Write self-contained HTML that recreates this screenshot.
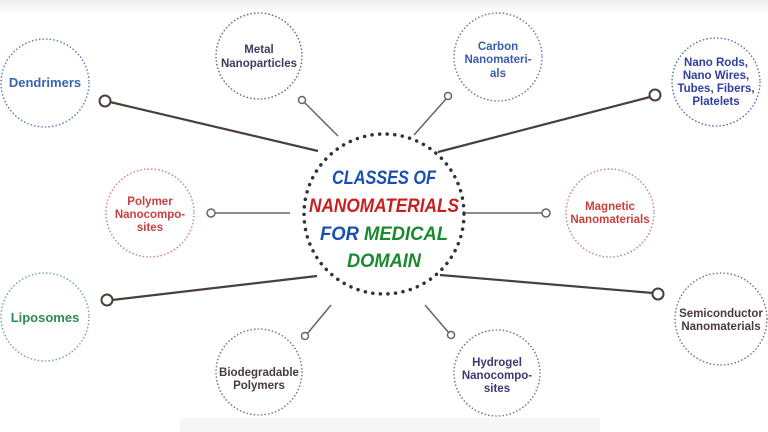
<!DOCTYPE html>
<html><head><meta charset="utf-8"><style>
html,body{margin:0;padding:0;background:#fff;}
svg{display:block;}
text{font-family:"Liberation Sans",sans-serif;font-weight:bold;text-anchor:middle;}
.t{font-size:11.5px;}
.h{font-size:19px;font-style:italic;font-weight:900;}
</style></head><body>
<svg width="768" height="432" viewBox="0 0 768 432" xmlns="http://www.w3.org/2000/svg">
<defs><linearGradient id="g" x1="0" y1="0" x2="0" y2="1"><stop offset="0" stop-color="#ececec"/><stop offset="1" stop-color="#fff"/></linearGradient></defs>
<rect x="0" y="0" width="768" height="14" fill="url(#g)"/>
<rect x="180" y="418" width="420" height="14" fill="#f6f6f6"/>
<g stroke="#4a3f3a" stroke-width="2.2" fill="none">
<line x1="110" y1="102" x2="318" y2="151"/>
<line x1="650" y1="97" x2="438" y2="152"/>
<line x1="112" y1="300" x2="317" y2="276"/>
<line x1="653" y1="293" x2="440" y2="275"/>
</g>
<g stroke="#666" stroke-width="1.5" fill="none">
<line x1="304" y1="102" x2="338" y2="136"/>
<line x1="446" y1="99" x2="414" y2="135"/>
<line x1="215" y1="213" x2="290" y2="213"/>
<line x1="542" y1="213" x2="466" y2="213"/>
<line x1="307" y1="334" x2="331" y2="305"/>
<line x1="449" y1="333" x2="425" y2="305"/>
</g>
<g fill="#fff" stroke="#4a3f3a" stroke-width="2">
<circle cx="105" cy="101" r="5.5"/><circle cx="655" cy="95" r="5.5"/>
<circle cx="107" cy="300" r="5.5"/><circle cx="658" cy="294" r="5.5"/>
</g>
<g fill="#fff" stroke="#666" stroke-width="1.5">
<circle cx="302" cy="100" r="3.5"/><circle cx="448" cy="96" r="3.5"/>
<circle cx="211" cy="213" r="4"/><circle cx="546" cy="213" r="4"/>
<circle cx="305" cy="336" r="3.5"/><circle cx="451" cy="335" r="3.5"/>
</g>
<circle cx="384" cy="214" r="80" fill="none" stroke="#333" stroke-width="3.5" stroke-dasharray="0.1 7.5" stroke-linecap="round"/>
<g fill="none" stroke-width="1.6" stroke-dasharray="0.1 3.5" stroke-linecap="round">
<circle cx="45" cy="83" r="44" stroke="#5a7ab8"/>
<circle cx="259" cy="56" r="43" stroke="#666a88"/>
<circle cx="498" cy="57" r="44" stroke="#6a7aa8"/>
<circle cx="716" cy="82" r="44" stroke="#5a6ab8"/>
<circle cx="150" cy="213" r="44" stroke="#d08080"/>
<circle cx="610" cy="213" r="44" stroke="#d08080"/>
<circle cx="45" cy="317" r="44" stroke="#70a890"/>
<circle cx="259" cy="372" r="43" stroke="#777"/>
<circle cx="497" cy="373" r="43" stroke="#777"/>
<circle cx="721" cy="319" r="46" stroke="#777"/>
</g>
<text class="t" x="45" y="87" fill="#3b63b0" style="font-size:13px">Dendrimers</text>
<text class="t" x="259" y="53" fill="#3d3d60">Metal</text>
<text class="t" x="259" y="67" fill="#3d3d60">Nanoparticles</text>
<text class="t" x="498" y="50" fill="#3b5ea8">Carbon</text>
<text class="t" x="498" y="63" fill="#3b5ea8">Nanomateri-</text>
<text class="t" x="498" y="77" fill="#3b5ea8">als</text>
<text class="t" x="716" y="66" fill="#3040a0">Nano Rods,</text>
<text class="t" x="716" y="79" fill="#3040a0">Nano Wires,</text>
<text class="t" x="716" y="92" fill="#3040a0">Tubes, Fibers,</text>
<text class="t" x="716" y="105" fill="#3040a0">Platelets</text>
<text class="t" x="150" y="205" fill="#c84040">Polymer</text>
<text class="t" x="150" y="218" fill="#c84040">Nanocompo-</text>
<text class="t" x="150" y="231" fill="#c84040">sites</text>
<text class="t" x="610" y="210" fill="#c84040">Magnetic</text>
<text class="t" x="610" y="223" fill="#c84040">Nanomaterials</text>
<text class="t" x="45" y="322" fill="#2e8a50" style="font-size:13px">Liposomes</text>
<text class="t" x="259" y="376" fill="#4a3a3a">Biodegradable</text>
<text class="t" x="259" y="389" fill="#4a3a3a">Polymers</text>
<text class="t" x="497" y="366" fill="#3a3a70">Hydrogel</text>
<text class="t" x="497" y="379" fill="#3a3a70">Nanocompo-</text>
<text class="t" x="497" y="392" fill="#3a3a70">sites</text>
<text class="t" x="721" y="317" fill="#4a3a3a">Semiconductor</text>
<text class="t" x="721" y="330" fill="#4a3a3a">Nanomaterials</text>
<text class="h" x="384" y="184" fill="#1a4fb0" textLength="104" lengthAdjust="spacingAndGlyphs">CLASSES OF</text>
<text class="h" x="384" y="212" fill="#c82020" textLength="150" lengthAdjust="spacingAndGlyphs">NANOMATERIALS</text>
<text class="h" x="384" y="240" textLength="128" lengthAdjust="spacingAndGlyphs"><tspan fill="#1a4fb0">FOR </tspan><tspan fill="#1a8a30">MEDICAL</tspan></text>
<text class="h" x="384" y="267" fill="#1a8a30" textLength="74" lengthAdjust="spacingAndGlyphs">DOMAIN</text>
</svg>
</body></html>
